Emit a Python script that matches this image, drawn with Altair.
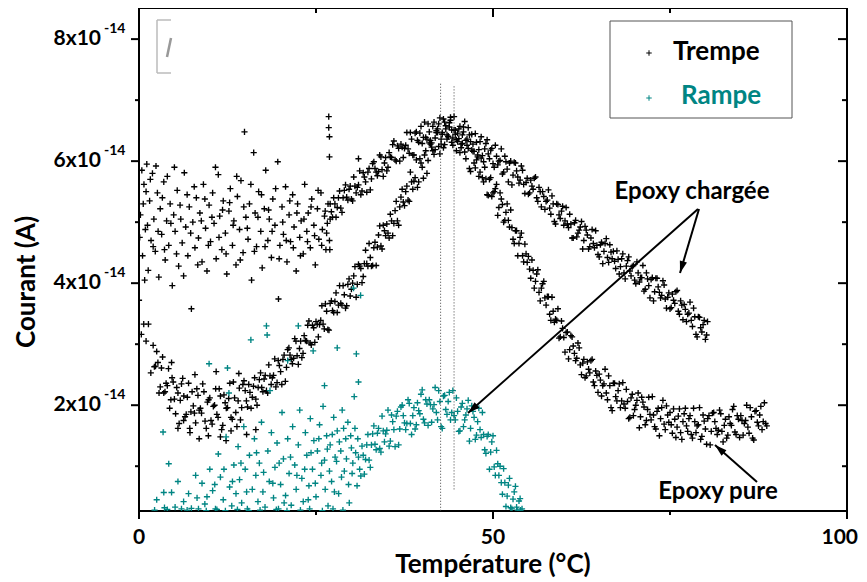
import altair as alt
import pandas as pd

# ---------------- data (temperature °C, courant in 1e-14 A) ----------------
# Trempe: noisy plateau before the jump (0-27 °C)
trempe_bruit = [
 (0.2,5.12),(0.5,4.45),(0.7,5.62),(0.9,4.88),(1.1,5.95),(1.3,4.21),(1.5,5.35),(1.7,4.70),(1.9,5.80),(2.1,5.05),
 (2.3,4.52),(2.6,5.48),(2.8,4.10),(3.0,5.22),(3.2,4.80),(3.5,5.66),(3.7,4.38),(3.9,5.02),(4.2,4.62),(4.4,5.30),
 (4.7,3.96),(4.9,5.12),(5.1,4.85),(5.4,5.52),(5.6,4.28),(5.9,5.05),(6.1,4.66),(6.4,5.81),(6.6,4.92),(6.9,4.45),
 (7.1,5.25),(7.4,3.58),(7.6,5.00),(7.9,4.58),(8.1,5.40),(8.4,4.74),(8.6,5.15),(8.9,4.35),(9.1,5.62),(9.4,4.90),
 (9.6,4.20),(9.9,5.28),(10.1,4.68),(10.4,5.48),(10.6,4.98),(10.9,4.40),(11.2,5.78),(11.4,5.10),(11.7,4.55),(11.9,5.35),
 (12.2,4.82),(12.4,4.15),(12.7,5.18),(12.9,5.55),(13.2,4.62),(13.4,5.02),(13.7,4.30),(13.9,5.42),(14.2,4.88),(14.4,5.68),
 (14.7,4.50),(14.9,6.48),(15.1,5.08),(15.4,4.72),(15.6,5.30),(15.9,4.05),(16.2,6.14),(16.4,5.15),(16.6,4.60),(16.9,5.50),
 (17.2,4.85),(17.4,4.25),(17.7,5.22),(17.9,5.85),(18.2,4.70),(18.4,5.05),(18.7,4.42),(18.9,5.38),(19.2,4.95),(19.6,5.99),
 (19.7,3.74),(19.9,4.62),(20.2,5.25),(20.4,4.80),(20.7,5.58),(20.9,4.35),(21.2,5.12),(21.4,4.68),(21.7,5.45),(21.9,4.92),
 (22.2,4.20),(22.4,5.30),(22.7,4.75),(22.9,5.02),(23.2,4.48),(23.4,5.62),(23.7,4.85),(23.9,5.15),(24.2,4.58),(24.4,5.38),
 (24.7,4.95),(24.9,4.30),(25.2,5.22),(25.4,4.72),(25.7,5.48),(25.9,4.88),(26.2,5.10),(26.4,4.55),(26.7,5.30),(26.8,6.73),
 (26.8,6.55),(26.9,6.40),(26.9,6.07),(26.6,4.98),(31.0,6.04),
 (0.1,4.75),(0.4,5.85),(0.6,5.30),(0.8,4.05),(1.0,5.50),(1.2,4.95),(1.6,5.70),(2.0,4.60),(2.4,5.92),(2.7,4.85),
 (3.3,5.40),(3.6,4.55),(4.0,5.75),(4.5,4.98),(5.0,5.90),(5.3,4.48),(5.8,5.28),(6.3,4.12),(6.8,5.45),(7.3,4.82),
 (7.8,5.58),(8.3,4.30),(8.8,5.02),(9.3,5.38),(9.8,4.62),(10.3,5.08),(10.8,5.90),(11.3,4.75),(11.8,5.20),(12.3,4.48),
 (12.8,5.32),(13.3,4.95),(13.8,5.75),(14.3,4.38),(14.8,5.25),(15.3,4.90),(15.8,5.62),(16.3,4.52),(16.8,5.08),(17.3,5.45),
 (17.8,4.60),(18.3,5.20),(18.8,4.85),(19.3,5.55),(19.8,4.40),(20.3,5.00),(20.8,4.70),(21.3,5.35),(21.8,4.58),(22.3,5.15),
 (22.8,4.45),(23.3,5.05),(23.8,4.68),(24.3,5.25),(24.8,4.78),(25.3,5.52),(25.8,4.62),(26.3,5.18),(26.5,4.82),(27.0,5.05),
 (26.9,4.70),(26.95,4.55),
]

# Trempe: epoxy chargée (upper curve)
trempe_chargee = [
 (27.0,5.30),(27.33,5.08),(27.67,5.30),(28.0,5.24),(28.33,5.51),(28.67,5.16),(29.0,5.52),(29.33,5.41),(29.67,5.54),
 (30.0,5.38),(30.33,5.74),(30.67,5.48),(31.0,5.61),(31.33,5.45),(31.67,5.81),(32.0,5.66),(32.33,5.82),(32.67,5.53),
 (33.0,5.96),(33.33,5.88),(33.67,5.76),(34.0,6.10),(34.33,5.86),(34.67,5.97),(35.0,5.84),(35.33,6.14),(35.67,6.06),
 (36.0,6.33),(36.33,6.00),(36.67,6.21),(37.0,6.28),(37.33,6.06),(37.67,6.26),(38.0,6.20),(38.33,6.47),(38.67,6.10),
 (39.0,6.46),(39.33,6.34),(39.67,6.46),(40.0,6.29),(40.33,6.64),(40.67,6.36),(41.0,6.48),(41.33,6.30),(41.67,6.64),
 (42.0,6.47),(42.33,6.61),(42.67,6.28),(43.0,6.69),(43.33,6.58),(43.67,6.41),(44.0,6.72),(44.33,6.38),(44.67,6.51),
 (45.0,6.32),(45.33,6.57),(45.67,6.43),(46.0,6.65),(46.33,6.26),(46.67,6.43),(47.0,6.44),(47.33,6.16),(47.67,6.31),
 (48.0,6.19),(48.33,6.40),(48.67,5.99),(49.0,6.29),(49.33,6.12),(49.67,6.18),(50.0,5.96),(50.33,6.26),(50.67,5.94),
 (51.0,6.01),(51.33,5.79),(51.67,6.08),(52.0,5.87),(52.33,5.97),(52.67,5.61),(53.0,5.98),(53.33,5.84),(53.67,5.64),
 (54.0,5.92),(54.33,5.62),(54.67,5.65),(55.0,5.46),(55.33,5.69),(55.67,5.54),(56.0,5.74),(56.33,5.34),(56.67,5.50),
 (57.0,5.50),(57.33,5.21),(57.67,5.36),(58.0,5.23),(58.33,5.43),(58.67,5.01),(59.0,5.30),(59.33,5.12),(59.67,5.18),
 (60.0,4.95),(60.33,5.24),(60.67,4.91),(61.0,4.97),(61.33,4.74),(61.67,5.03),(62.0,4.82),(62.33,4.92),(62.67,4.56),
 (63.0,4.93),(63.33,4.79),(63.67,4.60),(64.0,4.88),(64.33,4.58),(64.67,4.62),(65.0,4.43),(65.33,4.67),(65.67,4.52),
 (66.0,4.73),(66.33,4.34),(66.67,4.51),(67.0,4.52),(67.33,4.24),(67.67,4.39),(68.0,4.27),(68.33,4.48),(68.67,4.07),
 (69.0,4.37),(69.33,4.20),(69.67,4.27),(70.0,4.05),(70.33,4.35),(70.67,4.02),(71.0,4.09),(71.33,3.87),(71.67,4.17),
 (72.0,3.96),(72.33,4.06),(72.67,3.71),(73.0,4.08),(73.33,3.94),(73.67,3.76),(74.0,4.04),(74.33,3.74),(74.67,3.77),
 (75.0,3.58),(75.33,3.82),(75.67,3.67),(76.0,3.88),(76.33,3.49),(76.67,3.64),(77.0,3.65),(77.33,3.37),(77.67,3.51),
 (78.0,3.39),(78.33,3.59),(78.67,3.16),(79.0,3.45),(79.33,3.27),(79.67,3.32),(80.0,3.08),(80.3,3.37),
 (27.17,5.17),(27.5,5.40),(27.83,5.08),(28.17,5.40),(28.5,5.23),(28.83,5.40),(29.17,5.61),(29.5,5.36),(29.83,5.59),
 (30.17,5.35),(30.5,5.59),(30.83,5.57),(31.17,5.84),(31.5,5.51),(31.83,5.74),(32.17,5.49),(32.5,5.88),(32.83,5.71),
 (33.17,5.99),(33.5,5.82),(33.83,5.83),(34.17,6.07),(34.5,5.75),(34.83,6.06),(35.17,5.90),(35.5,6.07),(35.83,6.27),
 (36.17,6.02),(36.5,6.25),(36.83,6.00),(37.17,6.23),(37.5,6.21),(37.83,6.47),(38.17,6.13),(38.5,6.36),(38.83,6.10),
 (39.17,6.48),(39.5,6.31),(39.83,6.57),(40.17,6.39),(40.5,6.39),(40.83,6.61),(41.17,6.28),(41.5,6.57),(41.83,6.38),
 (42.17,6.53),(42.5,6.71),(42.83,6.44),(43.17,6.64),(43.5,6.36),(43.83,6.56),(44.17,6.51),(44.5,6.73),(44.83,6.35),
 (45.17,6.53),(45.5,6.22),(45.83,6.56),(46.17,6.34),(46.5,6.55),(46.83,6.32),(47.17,6.28),(47.5,6.45),(47.83,6.07),
 (48.17,6.32),(48.5,6.09),(48.83,6.20),(49.17,6.35),(49.5,6.04),(49.83,6.21),(50.17,5.90),(50.5,6.08),(50.83,6.00),
 (51.17,6.20),(51.5,5.82),(51.83,5.99),(52.17,5.66),(52.5,6.00),(52.83,5.77),(53.17,5.97),(53.5,5.74),(53.83,5.69),
 (54.17,5.85),(54.5,5.47),(54.83,5.72),(55.17,5.48),(55.5,5.59),(55.83,5.72),(56.17,5.40),(56.5,5.57),(56.83,5.25),
 (57.17,5.42),(57.5,5.34),(57.83,5.53),(58.17,5.13),(58.5,5.30),(58.83,4.97),(59.17,5.29),(59.5,5.06),(59.83,5.26),
 (60.17,5.02),(60.5,4.97),(60.83,5.13),(61.17,4.74),(61.5,4.99),(61.83,4.76),(62.17,4.87),(62.5,5.01),(62.83,4.70),
 (63.17,4.87),(63.5,4.56),(63.83,4.74),(64.17,4.65),(64.5,4.86),(64.83,4.47),(65.17,4.63),(65.5,4.32),(65.83,4.65),
 (66.17,4.42),(66.5,4.63),(66.83,4.40),(67.17,4.36),(67.5,4.53),(67.83,4.15),(68.17,4.40),(68.5,4.17),(68.83,4.28),
 (69.17,4.43),(69.5,4.12),(69.83,4.29),(70.17,3.99),(70.5,4.17),(70.83,4.09),(71.17,4.29),(71.5,3.90),(71.83,4.07),
 (72.17,3.76),(72.5,4.09),(72.83,3.86),(73.17,4.08),(73.5,3.85),(73.83,3.80),(74.17,3.97),(74.5,3.59),(74.83,3.84),
 (75.17,3.60),(75.5,3.72),(75.83,3.86),(76.17,3.54),(76.5,3.71),(76.83,3.40),(77.17,3.57),(77.5,3.49),(77.83,3.69),
 (78.17,3.29),(78.5,3.45),(78.83,3.12),(79.17,3.44),(79.5,3.20),(79.83,3.39),(80.17,3.15),
]

# Trempe: epoxy pure (lower curve)
trempe_pure = [
 (0.0,3.72),(0.33,3.16),(0.67,3.33),(1.0,3.05),(1.33,3.33),(1.67,2.53),(2.0,2.98),(2.33,2.64),(2.67,2.70),(3.0,2.30),
 (3.33,2.79),(3.67,2.22),(4.0,2.32),(4.33,1.95),(4.67,2.45),(5.0,2.10),(5.33,2.29),(5.67,1.70),(6.0,2.35),(6.33,2.15),
 (6.67,1.85),(7.0,2.36),(7.33,1.89),(7.67,1.99),(8.0,1.71),(8.33,2.16),(8.67,1.95),(9.0,2.35),(9.33,1.74),(9.67,2.05),
 (10.0,2.12),(10.33,1.69),(10.67,2.00),(11.0,1.85),(11.33,2.27),(11.67,1.60),(12.0,2.17),(12.33,1.95),(12.67,2.11),
 (13.0,1.80),(13.33,2.38),(13.67,1.88),(14.0,2.07),(14.33,1.76),(14.67,2.34),
 (2.17,2.63),(2.5,2.88),(2.83,2.20),(3.17,2.61),(3.5,2.20),(3.83,2.36),(4.17,2.60),(4.5,2.09),(4.83,2.38),(5.17,1.86),
 (5.5,2.20),(5.83,2.08),(6.17,2.44),(6.5,1.81),(6.83,2.13),(7.17,1.62),(7.5,2.22),(7.83,1.87),(8.17,2.27),(8.5,1.92),
 (8.83,1.87),(9.17,2.22),(9.5,1.62),(9.83,2.09),(10.17,1.75),(10.5,1.98),(10.83,2.27),(11.17,1.80),(11.5,2.15),
 (11.83,1.67),(12.17,2.04),(12.5,1.96),(12.83,2.36),(13.17,1.77),(13.5,2.12),(13.83,1.65),(14.17,2.28),(14.5,1.96),
 (14.83,2.40),
 (5.5,1.62),(7.2,1.55),(9.8,1.50),(11.5,1.48),(13.0,1.58),(15.2,1.52),(16.5,1.60),(8.5,1.45),(12.3,1.42),(6.3,1.75),
 (10.9,2.55),(7.9,2.50),(4.6,2.70),(14.1,2.52),
 (15.0,2.24),(15.33,1.97),(15.67,2.21),(16.0,2.13),(16.33,2.45),(16.67,2.00),(17.0,2.42),(17.33,2.29),(17.67,2.43),
 (18.0,2.24),(18.33,2.66),(18.67,2.34),(19.0,2.49),(19.33,2.30),(19.67,2.73),(20.0,2.55),(20.33,2.75),(20.67,2.39),
 (21.0,2.91),(21.33,2.82),(21.67,2.68),(22.0,3.09),(22.33,2.81),(22.67,2.93),(23.0,2.78),(23.33,3.14),(23.67,3.05),
 (24.0,3.38),(24.33,2.99),(24.67,3.27),(25.0,3.37),(25.33,3.12),(25.67,3.39),(26.0,3.33),(26.33,3.66),(26.67,3.24),
 (27.0,3.67),(27.33,3.55),(27.67,3.70),(28.0,3.52),(28.33,3.96),(28.67,3.64),(29.0,3.81),(29.33,3.63),(29.67,4.07),
 (30.0,3.90),(30.33,4.12),(30.67,3.77),(31.0,4.31),(31.33,4.24),(31.67,4.11),(32.0,4.54),(32.33,4.28),(32.67,4.42),
 (33.0,4.29),(33.33,4.67),(33.67,4.59),(34.0,4.94),(34.33,4.56),(34.67,4.86),(35.0,4.97),(35.33,4.74),(35.67,5.02),
 (36.0,4.98),(36.33,5.34),(36.67,4.95),(37.0,5.41),(37.33,5.33),(37.67,5.50),(38.0,5.36),(38.33,5.82),(38.67,5.54),
 (39.0,5.73),(39.33,5.57),(39.67,6.04),
 (40.0,5.90),(40.33,6.10),(40.67,5.80),(41.0,6.30),(41.33,6.23),(41.67,6.11),(42.0,6.50),(42.33,6.24),(42.67,6.36),
 (43.0,6.22),(43.33,6.53),(43.67,6.40),(44.0,6.67),(44.33,6.26),(44.67,6.44),(45.0,6.46),(45.33,6.14),(45.67,6.29),
 (46.0,6.15),(46.33,6.36),(46.67,5.88),(47.0,6.18),(47.33,5.97),(47.67,6.02),(48.0,5.75),(48.33,6.05),(48.67,5.66),
 (49.0,5.71),(49.33,5.44),(49.67,5.73),(50.0,5.48),(50.33,5.55),(50.67,5.11),(51.0,5.48),(51.33,5.29),(51.67,5.03),
 (52.0,5.30),(52.33,4.92),(52.67,4.91),(53.0,4.65),(53.33,4.86),(53.67,4.65),(54.0,4.82),(54.33,4.35),(54.67,4.48),
 (55.0,4.44),(55.33,4.08),(55.67,4.21),(56.0,4.03),(56.33,4.22),(56.67,3.71),(57.0,3.99),(57.33,3.76),(57.67,3.78),
 (58.0,3.49),(58.33,3.77),(58.67,3.36),(59.0,3.39),(59.33,3.10),(59.67,3.38),(60.0,3.11),(60.33,3.19),(60.67,2.76),
 (61.0,3.14),(61.33,2.97),(61.67,2.73),(62.0,3.02),(62.33,2.66),(62.67,2.69),(63.0,2.45),(63.33,2.71),(63.67,2.53),
 (64.0,2.75),(64.33,2.32),(64.67,2.49),
 (65.0,2.51),(65.33,2.15),(65.67,2.35),(66.0,2.20),(66.33,2.48),(66.67,1.96),(67.0,2.36),(67.33,2.14),(67.67,2.24),
 (68.0,1.96),(68.33,2.37),(68.67,1.95),(69.0,2.06),(69.33,1.80),(69.67,2.18),(70.0,1.93),(70.33,2.08),(70.67,1.63),
 (71.0,2.13),(71.33,1.97),(71.67,1.75),(72.0,2.13),(72.33,1.76),(72.67,1.84),(73.0,1.61),(73.33,1.95),(73.67,1.78),
 (74.0,2.08),(74.33,1.60),(74.67,1.84),(75.0,1.88),(75.33,1.54),(75.67,1.77),(76.0,1.64),(76.33,1.94),(76.67,1.44),
 (77.0,1.86),(77.33,1.66),(77.67,1.78),(78.0,1.52),(78.33,1.95),(78.67,1.55),(79.0,1.68),(79.33,1.44),(79.67,1.84),
 (80.0,1.61),(80.33,1.78),(80.67,1.35),(81.0,1.87),(81.33,1.73),(81.67,1.52),(82.0,1.92),(82.33,1.57),(82.67,1.67),
 (83.0,1.46),(83.33,1.81),(83.67,1.67),(84.0,1.98),(84.33,1.52),(84.67,1.77),(85.0,1.83),(85.33,1.51),(85.67,1.75),
 (86.0,1.64),(86.33,1.96),(86.67,1.46),(87.0,1.90),(87.33,1.72),(87.67,1.84),(88.0,1.60),(88.33,2.04),(88.67,1.66),
 (15.17,2.07),(15.5,2.34),(15.83,1.95),(16.17,2.31),(16.5,2.10),(16.83,2.29),(17.17,2.53),(17.5,2.22),(17.83,2.49),
 (18.17,2.20),(18.5,2.48),(18.83,2.45),(19.17,2.76),(19.5,2.37),(19.83,2.65),(20.17,2.34),(20.5,2.82),(20.83,2.62),
 (21.17,2.94),(21.5,2.75),(21.83,2.77),(22.17,3.05),(22.5,2.67),(22.83,3.05),(23.17,2.85),(23.5,3.06),(23.83,3.31),
 (24.17,3.02),(24.5,3.31),(24.83,3.03),(25.17,3.33),(25.5,3.32),(25.83,3.63),(26.17,3.25),(26.5,3.54),(26.83,3.23),
 (27.17,3.71),(27.5,3.52),(27.83,3.84),(28.17,3.64),(28.5,3.67),(28.83,3.96),(29.17,3.59),(29.5,3.98),(29.83,3.79),
 (30.17,4.00),(30.5,4.27),(30.83,3.98),(31.17,4.28),(31.5,4.01),(31.83,4.32),(32.17,4.32),(32.5,4.65),(32.83,4.28),
 (33.17,4.58),(33.5,4.29),(33.83,4.79),(34.17,4.61),(34.5,4.95),(34.83,4.78),(35.17,4.82),(35.5,5.13),(35.83,4.78),
 (36.17,5.19),(36.5,5.02),(36.83,5.25),(37.17,5.54),(37.5,5.27),(37.83,5.59),(38.17,5.34),(38.5,5.66),(38.83,5.67),
 (39.17,6.02),(39.5,5.66),(39.83,5.97),(40.17,5.72),(40.5,6.17),(40.83,6.01),(41.17,6.34),(41.5,6.17),(41.83,6.19),
 (42.17,6.47),(42.5,6.12),(42.83,6.47),(43.17,6.27),(43.5,6.43),(43.83,6.63),(44.17,6.31),(44.5,6.51),(44.83,6.17),
 (45.17,6.37),(45.5,6.28),(45.83,6.48),(46.17,6.04),(46.5,6.21),(46.83,5.83),(47.17,6.16),(47.5,5.89),(47.83,6.10),
 (48.17,5.82),(48.5,5.73),(48.83,5.90),(49.17,5.45),(49.5,5.70),(49.83,5.42),(50.17,5.50),(50.5,5.62),(50.83,5.24),
 (51.17,5.38),(51.5,5.00),(51.83,5.16),(52.17,5.03),(52.5,5.20),(52.83,4.72),(53.17,4.86),(53.5,4.45),(53.83,4.75),
 (54.17,4.45),(54.5,4.64),(54.83,4.34),(55.17,4.23),(55.5,4.38),(55.83,3.92),(56.17,4.15),(56.5,3.85),(56.83,3.92),
 (57.17,4.03),(57.5,3.64),(57.83,3.78),(58.17,3.39),(58.5,3.54),(58.83,3.41),(59.17,3.58),(59.5,3.12),(59.83,3.26),
 (60.17,2.87),(60.5,3.20),(60.83,2.91),(61.17,3.12),(61.5,2.85),(61.83,2.77),(62.17,2.94),(62.5,2.50),(62.83,2.75),
 (63.17,2.48),(63.5,2.59),(63.83,2.73),(64.17,2.38),(64.5,2.56),(64.83,2.21),(65.17,2.41),(65.5,2.32),(65.83,2.59),
 (66.17,2.09),(66.5,2.32),(66.83,1.91),(67.17,2.36),(67.5,2.07),(67.83,2.35),(68.17,2.07),(68.5,2.02),(68.83,2.26),
 (69.17,1.78),(69.5,2.12),(69.83,1.83),(70.17,2.00),(70.5,2.20),(70.83,1.81),(71.17,2.05),(71.5,1.68),(71.83,1.93),
 (72.17,1.85),(72.5,2.14),(72.83,1.65),(73.17,1.90),(73.5,1.50),(73.83,1.96),(74.17,1.69),(74.5,1.99),(74.83,1.72),
 (75.17,1.68),(75.5,1.94),(75.83,1.47),(76.17,1.82),(76.5,1.55),(76.83,1.73),(77.17,1.95),(77.5,1.57),(77.83,1.83),
 (78.17,1.46),(78.5,1.73),(78.83,1.66),(79.17,1.96),(79.5,1.49),(79.83,1.74),(80.17,1.36),(80.5,1.83),(80.83,1.57),
 (81.17,1.88),(81.5,1.62),(81.83,1.59),(82.17,1.86),(82.5,1.40),(82.83,1.77),(83.17,1.51),(83.5,1.70),(83.83,1.93),
 (84.17,1.56),(84.5,1.83),(84.83,1.47),(85.17,1.75),(85.5,1.70),(85.83,2.00),(86.17,1.54),(86.5,1.81),(86.83,1.43),
 (87.17,1.91),(87.5,1.66),(87.83,1.98),(88.17,1.73),(88.5,1.70),
]

# Rampe: scattered low-temperature part
rampe_bruit = [
 (2.5,0.45),(3.4,1.56),(4.2,1.04),(3.5,0.57),(4.6,0.57),(3.6,0.32),(6.0,0.30),(7.4,0.31),(8.2,0.48),(8.9,0.72),
 (9.3,0.38),(9.9,2.68),(10.0,0.95),(10.4,0.60),(10.8,0.30),(11.2,1.20),(11.5,0.82),(11.9,0.45),(12.3,1.48),(12.5,2.61),
 (12.7,2.20),(12.8,0.66),(13.1,0.35),(13.4,1.02),(13.7,0.55),(14.0,1.32),(14.2,0.78),(14.5,0.40),(14.8,1.65),(15.0,0.95),
 (15.3,0.30),(15.6,1.18),(15.8,3.07),(16.0,0.62),(16.3,1.45),(16.5,0.85),(16.8,0.42),(17.0,1.05),(17.3,1.72),(17.5,0.58),
 (17.8,0.33),(18.0,3.30),(18.1,3.15),(18.2,1.25),(18.5,2.24),(18.4,0.75),(18.7,1.55),(19.0,0.48),(19.2,0.98),(19.5,1.38),
 (19.7,0.30),(20.0,0.70),(20.2,1.88),(20.4,1.12),(20.7,0.52),(21.0,2.73),(21.0,1.45),(21.2,0.88),(21.5,0.36),(21.7,1.65),
 (22.0,1.02),(22.2,0.62),(22.5,3.30),(22.5,1.35),(22.7,1.92),(23.0,0.80),(23.2,0.42),(23.5,1.55),(23.7,1.18),(24.0,0.68),
 (24.2,1.78),(24.6,2.89),(24.5,0.95),(24.7,1.42),(25.0,0.50),(25.2,1.25),(25.5,1.68),(25.7,0.85),(26.0,1.98),(26.2,2.32),
 (26.2,1.10),(26.5,1.50),(26.7,0.35),(27.0,1.35),(27.2,0.75),(27.5,1.80),(27.7,1.15),(28.0,2.94),(28.0,1.58),(28.2,0.55),
 (28.5,1.25),(28.7,1.92),(29.0,0.92),(29.2,1.45),(29.5,1.72),(29.7,0.40),(30.0,1.30),(30.3,3.92),(30.4,2.14),(30.2,1.05),
 (30.5,1.62),(30.7,2.84),(31.0,2.38),(31.3,3.80),(30.8,0.68),(28.8,0.28),(27.4,0.30),(25.9,0.27),(24.1,0.30),(22.8,0.28),
 (20.9,0.27),(19.4,0.29),(17.1,0.28),(15.5,0.27),(13.9,0.29),(12.2,0.27),(11.0,0.29),(9.5,0.27),(8.4,0.30),(6.8,0.28),
 (5.1,0.33),(4.0,0.29),(2.2,0.28),
 (23.4,0.95),(24.3,1.22),(24.9,0.72),(25.4,1.45),(25.8,1.05),(26.3,0.62),(26.6,1.28),(26.9,0.92),(27.3,1.52),(27.6,0.58),
 (27.9,1.08),(28.3,1.40),(28.6,0.82),(28.9,1.62),(29.3,1.12),(29.6,0.70),(29.9,1.50),(30.1,0.88),(30.6,1.22),(30.9,1.45),
 (23.9,0.45),(22.3,0.85),(21.4,1.15),(20.5,0.40),(19.8,1.05),(18.9,0.72),(17.6,0.90),(16.6,1.22),(15.2,0.58),(14.4,1.05),
 (13.2,0.75),(12.0,0.95),(10.7,0.70),(9.6,0.50),(8.0,0.85),(7.0,0.55),(6.3,0.42),(5.5,0.75),
]

# Rampe: relaxation peak
rampe_pic = [
 (31.0,1.15),(31.33,0.84),(31.67,1.18),(32.0,1.11),(32.33,1.52),(32.67,0.98),(33.0,1.53),(33.33,1.36),(33.67,1.54),
 (34.0,1.29),(34.33,1.82),(34.67,1.40),(35.0,1.59),(35.33,1.33),(35.67,1.84),(36.0,1.60),(36.33,1.82),(36.67,1.35),
 (37.0,1.97),(37.33,1.83),(37.67,1.60),(38.0,2.09),(38.33,1.70),(38.67,1.83),(39.0,1.61),(39.33,2.04),(39.67,1.86),
 (40.0,2.25),(40.33,1.71),(40.67,2.02),(41.0,2.09),(41.33,1.72),(41.67,2.01),(42.0,1.88),(42.33,2.24),(42.67,1.65),
 (43.0,2.15),(43.33,1.93),(43.67,2.06),(44.0,1.76),(44.33,2.24),(44.67,1.76),(45.0,1.90),(45.33,1.58),(45.67,2.03),
 (46.0,1.76),(46.33,1.94),(46.67,1.41),(47.0,1.99),(47.33,1.80),(47.67,1.51),(48.0,1.95),(48.33,1.47),(48.67,1.52),
 (49.0,1.21),(49.33,1.52),(49.67,1.23),(50.0,1.50),(50.33,0.85),(50.67,1.04),(51.0,1.00),(51.33,0.54),(51.67,0.73),
 (52.0,0.51),(52.33,0.80),(52.67,0.30),(53.0,0.58),(53.33,0.33),(53.67,0.43),
 (31.17,0.95),(31.5,1.33),(31.83,0.87),(32.17,1.35),(32.5,1.10),(32.83,1.35),(33.17,1.66),(33.5,1.27),(33.83,1.62),
 (34.17,1.23),(34.5,1.58),(34.83,1.53),(35.17,1.92),(35.5,1.41),(35.83,1.73),(36.17,1.32),(36.5,1.90),(36.83,1.61),
 (37.17,2.00),(37.5,1.71),(37.83,1.70),(38.17,2.03),(38.5,1.52),(38.83,1.96),(39.17,1.68),(39.5,1.91),(39.83,2.18),
 (40.17,1.77),(40.5,2.09),(40.83,1.67),(41.17,2.01),(41.5,1.94),(41.83,2.29),(42.17,1.76),(42.5,2.06),(42.83,1.62),
 (43.17,2.16),(43.5,1.85),(43.83,2.21),(44.17,1.88),(44.5,1.83),(44.83,2.12),(45.17,1.57),(45.5,1.97),(45.83,1.65),
 (46.17,1.84),(46.5,2.08),(46.83,1.62),(47.17,1.90),(47.5,1.44),(47.83,1.73),(48.17,1.60),(48.5,1.88),(48.83,1.27),
 (49.17,1.49),(49.5,0.95),(49.83,1.40),(50.17,0.99),(50.5,1.26),(50.83,0.85),(51.17,0.73),(51.5,0.96),(51.83,0.34),
 (52.17,0.69),(52.5,0.32),(52.83,0.46),(53.17,0.67),(53.5,0.28),(53.83,0.47),(54.1,0.30),(53.9,0.28),
]

series_names = ["Trempe", "Rampe"]
x_ticks = [0, 50, 100]
x_tick_labels = ["0", "50", "100"]
x_minor = [25, 75]
y_ticks = [2, 4, 6, 8]
y_minor = [1, 3, 5, 7]
y_tick_labels = ["2x10", "4x10", "6x10", "8x10"]
y_exponent = "-14"
peak_temps = [42.6, 44.5]
peak_low = [0.27, 0.62]
peak_high = [7.30, 7.25]

# ---------------- styling ----------------
FONT = "Lato"
BLACK = "#000000"
TEAL = "#008583"
W, H = 708, 503
xs = alt.Scale(domain=[0, 100], nice=False, zero=False)
ys = alt.Scale(domain=[0.266, 8.51], nice=False, zero=False)
PLUS = "M-1,0L1,0M0,-1L0,1"
TRI = "M0,-1L0.55,0.8L-0.55,0.8Z"


def frame(points, name):
    return pd.DataFrame({"temp": [p[0] for p in points],
                         "courant": [p[1] for p in points],
                         "serie": name})


trempe_df = pd.concat([frame(trempe_bruit, series_names[0]),
                       frame(trempe_chargee, series_names[0]),
                       frame(trempe_pure, series_names[0])], ignore_index=True)
rampe_df = pd.concat([frame(rampe_bruit, series_names[1]),
                      frame(rampe_pic, series_names[1])], ignore_index=True)

one = pd.DataFrame({"a": [0]})


def scatter(df, color):
    return alt.Chart(df).mark_point(shape=PLUS, size=38, filled=False, color=color, strokeWidth=1.35,
                                    opacity=1, clip=True).encode(
        x=alt.X("temp:Q", scale=xs, axis=None),
        y=alt.Y("courant:Q", scale=ys, axis=None))


layers = []
layers.append(scatter(trempe_df, BLACK))
layers.append(scatter(rampe_df, TEAL))

# dotted peak lines
peaks = pd.DataFrame({"t": peak_temps, "y0": peak_low, "y1": peak_high})
layers.append(alt.Chart(peaks).mark_rule(color="#444444", strokeWidth=1, strokeDash=[1, 2]).encode(
    x=alt.X("t:Q", scale=xs, axis=None), y=alt.Y("y0:Q", scale=ys, axis=None), y2="y1:Q"))

# ticks: left/bottom outside, right/top mirrored inside
ymin_df = pd.DataFrame({"v": y_minor})
ymaj_df = pd.DataFrame({"v": y_ticks})
xmin_df = pd.DataFrame({"v": x_minor})
xmaj_df = pd.DataFrame({"v": x_ticks, "lab": x_tick_labels})
xtop_df = pd.DataFrame({"v": [50]})


def yrule(df, x0, x1):
    return alt.Chart(df).mark_rule(color=BLACK, strokeWidth=2).encode(
        y=alt.Y("v:Q", scale=ys, axis=None), x=alt.value(x0), x2=alt.value(x1))


def xrule(df, y0, y1):
    return alt.Chart(df).mark_rule(color=BLACK, strokeWidth=2).encode(
        x=alt.X("v:Q", scale=xs, axis=None), y=alt.value(y0), y2=alt.value(y1))


layers += [yrule(ymaj_df, -8, 0), yrule(ymin_df, -4, 0), yrule(ymaj_df, W - 9, W), yrule(ymin_df, W - 5, W),
           xrule(xmaj_df, H, H + 8), xrule(xmin_df, H, H + 4), xrule(xtop_df, 0, 9), xrule(xmin_df, 0, 5)]

# x tick labels (the last one kept inside the page edge)
layers.append(alt.Chart(xmaj_df.iloc[:2]).mark_text(align="center", baseline="alphabetic", font=FONT,
                                                    fontSize=21, fontWeight="bold", color=BLACK).encode(
    x=alt.X("v:Q", scale=xs, axis=None), y=alt.value(H + 33), text="lab:N"))
layers.append(alt.Chart(xmaj_df.iloc[2:]).mark_text(align="right", baseline="alphabetic", font=FONT,
                                                    fontSize=21, fontWeight="bold", color=BLACK, dx=11).encode(
    x=alt.X("v:Q", scale=xs, axis=None), y=alt.value(H + 33), text="lab:N"))

# y tick labels  "Nx10" + superscript "-14"
ylab_df = pd.DataFrame({"v": y_ticks, "lab": y_tick_labels})
layers.append(alt.Chart(ylab_df).mark_text(align="right", baseline="middle", font=FONT, fontSize=21,
                                           fontWeight="bold", color=BLACK).encode(
    y=alt.Y("v:Q", scale=ys, axis=None), x=alt.value(-38), text="lab:N"))
layers.append(alt.Chart(ylab_df).mark_text(align="left", baseline="middle", font=FONT, fontSize=14,
                                           fontWeight="bold", color=BLACK, dy=-10, text=y_exponent).encode(
    y=alt.Y("v:Q", scale=ys, axis=None), x=alt.value(-35)))

# axis titles
layers.append(alt.Chart(one).mark_text(text="Température (°C)", font=FONT, fontSize=26, fontWeight="bold",
                                       color=BLACK, align="center", baseline="alphabetic").encode(
    x=alt.value(354), y=alt.value(565)))
layers.append(alt.Chart(one).mark_text(text="Courant (A)", font=FONT, fontSize=26, fontWeight="bold",
                                       color=BLACK, align="center", baseline="middle", angle=270).encode(
    x=alt.value(-112), y=alt.value(274)))

# legend box
layers.append(alt.Chart(one).mark_rect(fill="white", stroke="#555555", strokeWidth=1).encode(
    x=alt.value(471), x2=alt.value(653), y=alt.value(13), y2=alt.value(110)))
layers.append(alt.Chart(one).mark_point(shape=PLUS, size=30, filled=False, color=BLACK, strokeWidth=1,
                                        opacity=1).encode(x=alt.value(510), y=alt.value(45)))
layers.append(alt.Chart(one).mark_point(shape=PLUS, size=30, filled=False, color=TEAL, strokeWidth=1,
                                        opacity=1).encode(x=alt.value(510), y=alt.value(90)))
layers.append(alt.Chart(one).mark_text(text=series_names[0], font=FONT, fontSize=26, fontWeight="bold",
                                       color=BLACK, align="left", baseline="alphabetic").encode(
    x=alt.value(534), y=alt.value(52)))
layers.append(alt.Chart(one).mark_text(text=series_names[1], font=FONT, fontSize=26, fontWeight="bold",
                                       color=TEAL, align="left", baseline="alphabetic").encode(
    x=alt.value(542), y=alt.value(96)))

# small cropped inset frame at top-left
for (ax, ay, bx, by) in [(18, 12, 32, 12), (18, 12, 18, 65), (18, 65, 32, 65)]:
    layers.append(alt.Chart(one).mark_rule(color="#bbbbbb", strokeWidth=1.5).encode(
        x=alt.value(ax), y=alt.value(ay), x2=alt.value(bx), y2=alt.value(by)))
layers.append(alt.Chart(one).mark_rule(color="#999999", strokeWidth=2.5).encode(
    x=alt.value(28), y=alt.value(49), x2=alt.value(32), y2=alt.value(30)))

# annotations
layers.append(alt.Chart(one).mark_text(text="Epoxy chargée", font=FONT, fontSize=24, fontWeight="bold",
                                       color=BLACK, align="center", baseline="alphabetic").encode(
    x=alt.value(553), y=alt.value(191)))
layers.append(alt.Chart(one).mark_text(text="Epoxy pure", font=FONT, fontSize=24, fontWeight="bold",
                                       color=BLACK, align="center", baseline="alphabetic").encode(
    x=alt.value(579), y=alt.value(491)))
arrows = [((560, 201), (541, 265), (542.9, 258.6), 196.5),
          ((559, 201), (329, 405), (334.0, 400.5), 228.4),
          ((618, 474), (576, 437), (581.0, 441.4), 311.4)]
for (s, e, c, ang) in arrows:
    layers.append(alt.Chart(one).mark_rule(color=BLACK, strokeWidth=2).encode(
        x=alt.value(s[0]), y=alt.value(s[1]), x2=alt.value(e[0]), y2=alt.value(e[1])))
    layers.append(alt.Chart(one).mark_point(shape=TRI, size=180, filled=True, color=BLACK, opacity=1,
                                            angle=ang).encode(x=alt.value(c[0]), y=alt.value(c[1])))

chart = alt.layer(*layers).properties(
    width=W, height=H,
    autosize=alt.AutoSizeParams(type="none"),
    padding={"left": 131, "top": 0, "right": 12, "bottom": 70},
    background="white",
).configure_view(stroke=BLACK, strokeWidth=2)

chart.save("out.html", embed_options={"renderer": "svg", "actions": False})
